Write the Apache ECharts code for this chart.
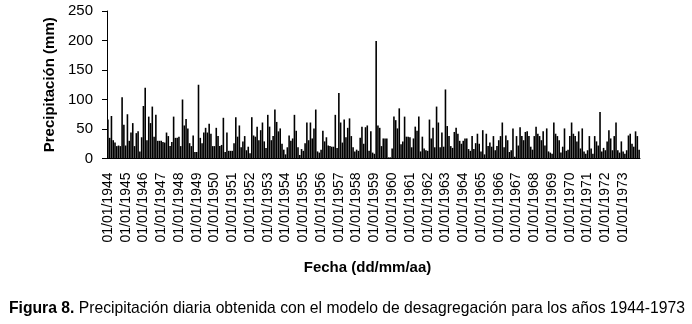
<!DOCTYPE html>
<html>
<head>
<meta charset="utf-8">
<script src="https://cdn.jsdelivr.net/npm/echarts@6/dist/echarts.min.js"></script>
<style>
  html, body { margin: 0; padding: 0; background: #fff; }
  #chart { width: 692px; height: 324px; }
</style>
</head>
<body>
<div id="chart"></div>
<script>
// años del eje (una etiqueta por año)
const years = [1944, 1945, 1946, 1947, 1948, 1949, 1950, 1951, 1952, 1953,
  1954, 1955, 1956, 1957, 1958, 1959, 1960, 1961, 1962, 1963,
  1964, 1965, 1966, 1967, 1968, 1969, 1970, 1971, 1972, 1973];
const stepsPerYear = 10; // valores leídos por año

// precipitación (mm), 10 valores por año
const precip1944_1953 = [
  66, 35, 72, 31, 27, 21, 22, 21, 104, 57,
  22, 75, 30, 44, 60, 21, 43, 46, 12, 36,
  89, 120, 31, 71, 60, 88, 37, 74, 30, 30,
  30, 28, 27, 44, 38, 21, 28, 71, 35, 35,
  37, 21, 100, 56, 67, 51, 26, 21, 39, 11,
  11, 125, 35, 26, 44, 52, 44, 59, 42, 21,
  21, 52, 38, 21, 23, 69, 11, 44, 13, 13,
  13, 26, 70, 37, 56, 19, 29, 38, 14, 20,
  9, 70, 39, 37, 54, 31, 48, 61, 29, 18,
  74, 54, 31, 38, 83, 62, 46, 51, 25, 15
];
const precip1954_1963 = [
  7, 19, 39, 30, 34, 74, 47, 19, 6, 16,
  13, 26, 61, 31, 61, 34, 51, 83, 12, 10,
  15, 47, 29, 36, 22, 21, 20, 20, 74, 18,
  111, 61, 27, 66, 36, 52, 68, 38, 19, 12,
  15, 13, 35, 54, 25, 53, 56, 13, 46, 10,
  8, 199, 56, 52, 21, 34, 34, 34, 2, 2,
  17, 71, 65, 51, 85, 24, 29, 71, 37, 37,
  36, 19, 34, 54, 47, 71, 12, 37, 17, 14,
  13, 66, 34, 52, 19, 88, 61, 19, 44, 20,
  117, 55, 38, 21, 18, 45, 52, 42, 30, 25
];
const precip1964_1973 = [
  30, 34, 34, 16, 13, 38, 16, 26, 42, 25,
  12, 48, 7, 42, 21, 27, 20, 38, 14, 21,
  31, 38, 61, 19, 39, 31, 11, 14, 51, 3,
  38, 22, 53, 38, 31, 45, 46, 38, 20, 15,
  38, 54, 42, 38, 31, 46, 22, 51, 12, 10,
  8, 61, 42, 38, 31, 10, 20, 51, 13, 15,
  38, 61, 42, 38, 29, 46, 17, 51, 12, 8,
  14, 38, 17, 8, 38, 29, 22, 79, 12, 18,
  14, 29, 48, 34, 14, 38, 61, 14, 10, 29,
  12, 8, 14, 39, 42, 25, 20, 46, 38, 15
];
const yTicks = [0, 50, 100, 150, 200, 250];

const precip = precip1944_1953.concat(precip1954_1963, precip1964_1973);

// categorías: año + índice dentro del año
let categories = [];
years.forEach(y => {
  for (let i = 0; i < stepsPerYear; i++) categories.push(y + '-' + i);
});

const font = 'Arial, "Liberation Sans", Helvetica, sans-serif';
const chart = echarts.init(document.getElementById('chart'), null, { renderer: 'canvas' });

chart.setOption({
  animation: false,
  backgroundColor: '#fff',
  title: {
    left: 4,
    top: 296,
    text: '{b|Figura 8.} Precipitación diaria obtenida con el modelo de desagregación para los años 1944-1973',
    textStyle: {
      fontFamily: font,
      fontSize: 15.7,
      fontWeight: 'normal',
      color: '#000',
      rich: {
        b: { fontFamily: font, fontSize: 15.7, fontWeight: 'bold', color: '#000' }
      }
    }
  },
  grid: { left: 107, right: 52, top: 11, bottom: 165.5 },
  xAxis: {
    type: 'category',
    data: categories,
    boundaryGap: true,
    name: 'Fecha (dd/mm/aa)',
    nameLocation: 'middle',
    nameGap: 102,
    nameTextStyle: { fontFamily: font, fontSize: 15, fontWeight: 'bold', color: '#000', padding: [0, 12, 0, 0] },
    axisLine: { lineStyle: { color: '#000', width: 1 } },
    axisTick: { interval: stepsPerYear - 1, length: 5, lineStyle: { color: '#000' } },
    axisLabel: {
      interval: stepsPerYear - 1,
      rotate: 90,
      margin: 14,
      fontFamily: font,
      fontSize: 14,
      color: '#000',
      formatter: v => '01/01/' + v.split('-')[0]
    },
    splitLine: { show: false }
  },
  yAxis: {
    type: 'value',
    min: yTicks[0],
    max: yTicks[yTicks.length - 1],
    interval: 50,
    name: 'Precipitación (mm)',
    nameLocation: 'middle',
    nameGap: 43,
    nameTextStyle: { fontFamily: font, fontSize: 15, fontWeight: 'bold', color: '#000' },
    axisLine: { show: true, lineStyle: { color: '#000', width: 1 } },
    axisTick: { show: true, length: 5, lineStyle: { color: '#000' } },
    axisLabel: { margin: 14, fontFamily: font, fontSize: 15, color: '#000' },
    splitLine: { show: false }
  },
  series: [{
    type: 'bar',
    data: precip,
    barCategoryGap: '10%',
    itemStyle: { color: '#000' }
  }]
});
</script>
</body>
</html>
